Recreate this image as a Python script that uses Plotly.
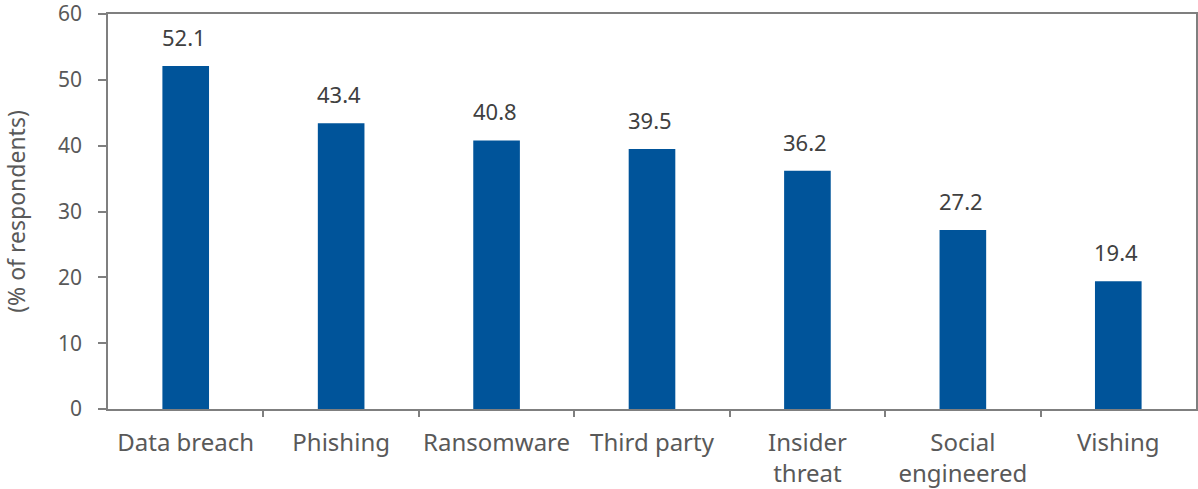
import plotly.graph_objects as go

categories = ["Data breach", "Phishing", "Ransomware", "Third party",
              "Insider<br>threat", "Social<br>engineered", "Vishing"]
values = [52.1, 43.4, 40.8, 39.5, 36.2, 27.2, 19.4]
y_ticks = [0, 10, 20, 30, 40, 50, 60]

font_family = "Noto Sans, DejaVu Sans, sans-serif"
axis_grey = "#7f7f7f"
text_grey = "#595959"

x_pos = list(range(len(categories)))

fig = go.Figure(
    go.Bar(
        x=x_pos,
        y=values,
        width=0.3,
        marker=dict(color="#00549a", line=dict(width=0)),
    )
)

# value labels sitting above each bar
for xi, v in zip(x_pos, values):
    fig.add_annotation(
        x=xi, y=v, text=f"{v:.1f}", showarrow=False,
        xanchor="center", yanchor="bottom", yshift=12, xshift=-2,
        font=dict(family=font_family, size=22, color="#404040"),
    )

fig.update_layout(
    width=1198,
    height=489,
    margin=dict(l=108, r=2, t=14, b=80, autoexpand=False),
    paper_bgcolor="white",
    plot_bgcolor="white",
    showlegend=False,
)

fig.update_xaxes(
    tickmode="array",
    tickvals=x_pos,
    ticktext=categories,
    range=[-0.5, len(categories) - 0.5],
    automargin=False,
    showline=True,
    linecolor=axis_grey,
    linewidth=1.5,
    mirror=True,
    ticks="",
    showgrid=False,
    zeroline=False,
    ticklabelstandoff=11,
    tickfont=dict(family=font_family, size=24, color=text_grey),
    # category boundary ticks between bars
    minor=dict(
        tickmode="array",
        tickvals=[i + 0.5 for i in range(len(categories) - 1)],
        ticks="outside",
        ticklen=6,
        tickcolor=axis_grey,
        tickwidth=1.5,
        showgrid=False,
    ),
)

fig.update_yaxes(
    range=[0, 60],
    tickmode="array",
    tickvals=y_ticks,
    ticktext=[str(t) for t in y_ticks],
    automargin=False,
    showline=True,
    linecolor=axis_grey,
    linewidth=1.5,
    mirror=True,
    ticks="outside",
    ticklen=8,
    tickcolor=axis_grey,
    tickwidth=1.5,
    showgrid=False,
    zeroline=False,
    ticklabelstandoff=12,
    ticklabeloverflow="allow",
    tickfont=dict(family=font_family, size=21, color=text_grey),
    title=dict(text="(% of respondents)",
               font=dict(family=font_family, size=23, color=text_grey),
               standoff=30),
)

fig.write_html("out.html")
